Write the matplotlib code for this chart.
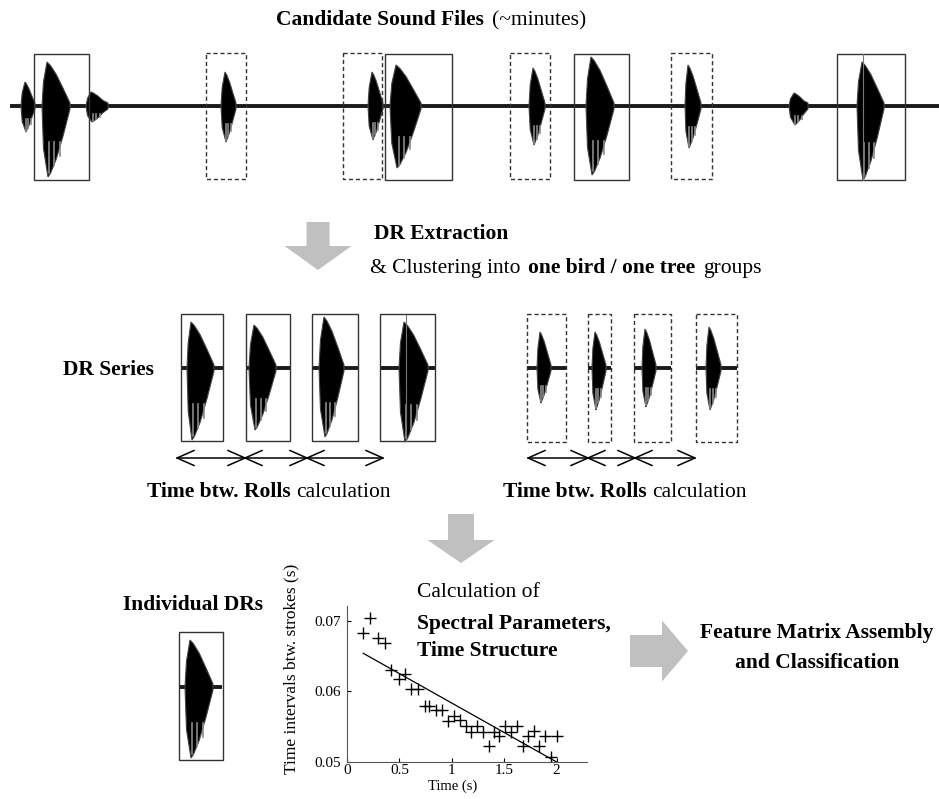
import numpy as np
import matplotlib
matplotlib.use('Agg')
import matplotlib.pyplot as plt
from matplotlib.patches import Rectangle, Polygon

plt.rcParams['font.family'] = ['Liberation Serif', 'DejaVu Serif']

# top recording: bursts (onset, peak, end, amplitude up / down, pixels)
top_base = 106
top_x0 = [21, 42, 86, 221, 368, 390, 529, 586, 685, 789, 857]
top_xp = [25, 47, 91, 225, 372, 396, 533, 591, 688, 794, 862]
top_x1 = [35, 70, 108, 236, 383, 421, 545, 614, 701, 808, 884]
top_up = [24, 44, 14, 34, 34, 41, 38, 49, 41, 13, 44]
top_dn = [26, 71, 16, 36, 34, 62, 39, 69, 42, 19, 74]
top_solid = [(34, 89), (385, 452), (574, 629), (837, 905)]
top_dashed = [(206, 246), (343, 382), (510, 550), (671, 712)]

# DR series, one bird (solid) and one tree (dashed)
mid_base = 368
solid_boxes = [(181, 223), (246, 290), (312, 358), (380, 435)]
solid_x0 = [187, 249, 319, 399]
solid_xp = [191, 254, 324, 404]
solid_x1 = [214, 276, 344, 428]
solid_up = [46, 43, 51, 46]
solid_dn = [72, 62, 69, 74]
dashed_boxes = [(527, 566), (588, 611), (634, 671), (696, 737)]
dashed_x0 = [537, 592, 642, 706]
dashed_xp = [540, 595, 645, 709]
dashed_x1 = [551, 606, 656, 721]
dashed_up = [36, 36, 39, 41]
dashed_dn = [35, 42, 39, 42]
solid_rolls = [177, 245, 307, 383]
dashed_rolls = [528, 588, 635, 695]

# time intervals between strokes
stroke_t = [0.149, 0.222, 0.295, 0.359, 0.422, 0.492, 0.556, 0.613, 0.673, 0.740,
            0.787, 0.851, 0.911, 0.962, 1.025, 1.079, 1.137, 1.184, 1.238, 1.295,
            1.352, 1.406, 1.454, 1.508, 1.565, 1.619, 1.676, 1.730, 1.784, 1.835,
            1.889, 1.943, 2.000]
stroke_dt = [0.0683, 0.0704, 0.0675, 0.0668, 0.0631, 0.0617, 0.0624, 0.0603, 0.0603, 0.0580,
             0.0580, 0.0573, 0.0573, 0.0558, 0.0565, 0.0559, 0.0551, 0.0543, 0.0551, 0.0543,
             0.0522, 0.0543, 0.0537, 0.0551, 0.0543, 0.0551, 0.0522, 0.0537, 0.0544, 0.0522,
             0.0537, 0.0507, 0.0537]
fit_t = [0.155, 2.0]
fit_dt = [0.0654, 0.0500]


def burst(ax, x0, xp, x1, base, up, dn):
    d = x1 - xp
    r = xp - x0
    upper = [(x0, base), (x0 + r * 0.3, base - up * 0.55), (xp, base - up),
             (xp + d * 0.15, base - up * 0.92), (xp + d * 0.4, base - up * 0.72),
             (xp + d * 0.7, base - up * 0.4), (x1, base - 3)]
    lower = [(x1, base + 3), (xp + d * 0.7, base + dn * 0.42), (xp + d * 0.4, base + dn * 0.75),
             (xp + d * 0.15, base + dn * 0.95), (xp + 1, base + dn),
             (x0 + r * 0.3, base + dn * 0.6), (x0, base)]
    ax.add_patch(Polygon(upper + lower, closed=True, fc='black', ec='#444444', lw=0.8, zorder=3))
    # grey streaks in the lower half
    for f in (0.1, 0.3, 0.55):
        xs = xp + d * f
        ax.plot([xs, xs], [base + dn * 0.5, base + dn * (1.0 - f * 0.55)], color='#8a8a8a',
                lw=1.2, zorder=4)


def noise(ax, xa, xb, base):
    ax.plot([xa, xb], [base, base], color='#1a1a1a', lw=2.8, solid_capstyle='butt', zorder=2)


def box(ax, xa, xb, ya, yb, dashed=False):
    ax.add_patch(Rectangle((xa, ya), xb - xa, yb - ya, fill=False, ec='#333333', lw=1.0,
                           ls=(0, (3, 2)) if dashed else '-', zorder=5))


def rolls(ax, xs, y):
    for a, b in zip(xs[:-1], xs[1:]):
        ax.plot([a, b], [y, y], color='black', lw=1.1)
        ax.plot([a + 17, a, a + 17], [y - 7.5, y, y + 7.5], color='black', lw=1.1)
        ax.plot([b - 17, b, b - 17], [y - 7.5, y, y + 7.5], color='black', lw=1.1)


def down_arrow(ax, cx, top, neck, tip, hs, hh):
    pts = [(cx - hs, top), (cx + hs, top), (cx + hs, neck), (cx + hh, neck), (cx, tip),
           (cx - hh, neck), (cx - hs, neck)]
    ax.add_patch(Polygon(pts, closed=True, fc='#c0c0c0', ec='none'))


def right_arrow(ax, cy, left, neck, tip, hs, hh):
    pts = [(left, cy - hs), (neck, cy - hs), (neck, cy - hh), (tip, cy), (neck, cy + hh),
           (neck, cy + hs), (left, cy + hs)]
    ax.add_patch(Polygon(pts, closed=True, fc='#c0c0c0', ec='none'))


fig = plt.figure(figsize=(9.39, 7.99), dpi=100)
ax = fig.add_axes([0, 0, 1, 1])
ax.set_xlim(0, 939)
ax.set_ylim(799, 0)
ax.axis('off')
renderer = fig.canvas.get_renderer()


def runs(x, y, parts, size=15.5, gap=5.5):
    for s, w in parts:
        t = ax.text(x, y, s, fontsize=size, fontweight=w, va='baseline', ha='left', zorder=6)
        x += t.get_window_extent(renderer=renderer).width + gap


# top recording
noise(ax, 10, 939, top_base)
for i in range(len(top_x0)):
    burst(ax, top_x0[i], top_xp[i], top_x1[i], top_base, top_up[i], top_dn[i])
for xa, xb in top_solid:
    box(ax, xa, xb, 54, 180)
for xa, xb in top_dashed:
    box(ax, xa, xb, 53, 179, dashed=True)
ax.plot([863, 863], [54, 180], color='#777777', lw=0.8, zorder=5)
runs(276, 25, [('Candidate Sound Files', 'bold'), ('(~minutes)', 'normal')], gap=8)

down_arrow(ax, 318, 222, 246, 270, 11.5, 33.5)
runs(374, 239, [('DR Extraction', 'bold')])
runs(370, 273, [('& Clustering into', 'normal'), ('one bird / one tree', 'bold'), ('groups', 'normal')], gap=8)

# DR series
runs(63, 375, [('DR Series', 'bold')])
for i, (xa, xb) in enumerate(solid_boxes):
    noise(ax, xa, xb, mid_base)
    burst(ax, solid_x0[i], solid_xp[i], solid_x1[i], mid_base, solid_up[i], solid_dn[i])
    box(ax, xa, xb, 314, 441)
ax.plot([406, 406], [315, 441], color='#777777', lw=0.8, zorder=5)
for i, (xa, xb) in enumerate(dashed_boxes):
    noise(ax, xa, xb, mid_base)
    burst(ax, dashed_x0[i], dashed_xp[i], dashed_x1[i], mid_base, dashed_up[i], dashed_dn[i])
    box(ax, xa, xb, 314, 442, dashed=True)
rolls(ax, solid_rolls, 458)
rolls(ax, dashed_rolls, 458)
runs(147, 497, [('Time btw. Rolls', 'bold'), ('calculation', 'normal')])
runs(503, 497, [('Time btw. Rolls', 'bold'), ('calculation', 'normal')])

down_arrow(ax, 461, 514, 540, 563, 13, 33.5)

# individual DR
runs(123, 610, [('Individual DRs', 'bold')])
noise(ax, 180, 222, 687)
burst(ax, 185, 190, 213, 687, 47, 71)
box(ax, 179, 223, 632, 760)

runs(417, 597, [('Calculation of', 'normal')])
runs(417, 629, [('Spectral Parameters,', 'bold')])
runs(417, 656, [('Time Structure', 'bold')])

right_arrow(ax, 651, 630, 662, 688, 16, 30.5)
ax.text(817, 638, 'Feature Matrix Assembly', fontsize=15.5, fontweight='bold', ha='center', va='baseline')
ax.text(817, 668, 'and Classification', fontsize=15.5, fontweight='bold', ha='center', va='baseline')

# inset: intervals between strokes
ax2 = fig.add_axes([347 / 939, (799 - 762) / 799, 240 / 939, 156 / 799])
ax2.patch.set_alpha(0)
ax2.plot(stroke_t, stroke_dt, '+', color='black', ms=8, mew=1.0)
ax2.plot(fit_t, fit_dt, color='black', lw=0.9)
ax2.set_xlim(0, 2.29)
ax2.set_ylim(0.05, 0.0721)
ax2.set_xticks([0, 0.5, 1, 1.5, 2])
ax2.set_xticklabels(['0', '0.5', '1', '1.5', '2'])
ax2.set_yticks([0.05, 0.06, 0.07])
ax2.set_yticklabels(['0.05', '0.06', '0.07'])
ax2.spines['top'].set_visible(False)
ax2.spines['right'].set_visible(False)
for s in ('left', 'bottom'):
    ax2.spines[s].set_color('#555555')
ax2.tick_params(direction='in', length=3, labelsize=11, pad=1.5)
ax2.tick_params(axis='y', pad=4)
ax2.set_xlabel('Time (s)', fontsize=10.5)
ax2.set_ylabel('Time intervals btw. strokes (s)', fontsize=12.5)
ax2.xaxis.set_label_coords(0.44, -0.115)
ax2.yaxis.set_label_coords(-0.2, 0.6)

fig.savefig('out.png', dpi=100)
